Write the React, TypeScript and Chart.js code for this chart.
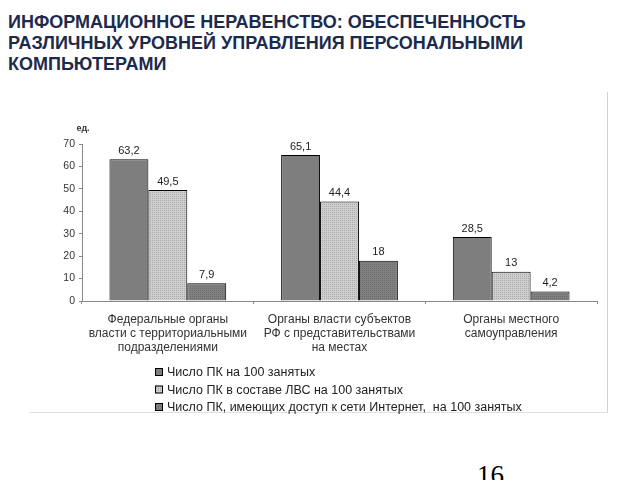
import React, { useEffect, useRef } from "react";
import { Chart, registerables } from "chart.js";

Chart.register(...registerables);

const titleLines = [
  "ИНФОРМАЦИОННОЕ НЕРАВЕНСТВО: ОБЕСПЕЧЕННОСТЬ",
  "РАЗЛИЧНЫХ УРОВНЕЙ УПРАВЛЕНИЯ ПЕРСОНАЛЬНЫМИ",
  "КОМПЬЮТЕРАМИ",
];
const categories = [
  ["Федеральные органы", "власти с территориальными", "подразделениями"],
  ["Органы власти субъектов", "РФ с представительствами", "на местах"],
  ["Органы местного", "самоуправления"],
];
const seriesNames = [
  "Число ПК на 100 занятых",
  "Число ПК в составе ЛВС на 100 занятых",
  "Число ПК, имеющих доступ к сети Интернет,  на 100 занятых",
];
const pcPer100 = [63.2, 65.1, 28.5];
const lanPer100 = [49.5, 44.4, 13];
const internetPer100 = [7.9, 18, 4.2];
const unitLabel = "ед.";

const FONT = "Arial, 'Liberation Sans', sans-serif";

function makePattern(bg: string, dot: string): CanvasPattern | string {
  const c = document.createElement("canvas");
  c.width = 2;
  c.height = 2;
  const ctx = c.getContext("2d");
  if (!ctx) return bg;
  ctx.fillStyle = bg;
  ctx.fillRect(0, 0, 2, 2);
  ctx.fillStyle = dot;
  ctx.fillRect(0, 0, 1, 1);
  const p = ctx.createPattern(c, "repeat");
  return p || bg;
}

export default function App() {
  const ref = useRef<HTMLCanvasElement>(null);
  useEffect(() => {
    if (!ref.current) return;
    const lightFill = makePattern("#cfcfcf", "#a8a8a8");
    const darkFill = "#7e7e7e";
    const thirdFill = makePattern("#808080", "#6e6e6e");
    const fills = [darkFill, lightFill, thirdFill];

    const labelsPlugin = {
      id: "extras",
      afterDatasetsDraw(chart: any) {
        const ctx = chart.ctx;
        ctx.save();
        ctx.font = "11px " + FONT;
        ctx.fillStyle = "#222";
        ctx.textAlign = "center";
        ctx.textBaseline = "bottom";
        chart.data.datasets.forEach((ds: any, i: number) => {
          const meta = chart.getDatasetMeta(i);
          meta.data.forEach((bar: any, j: number) => {
            const v = ds.data[j];
            ctx.fillText(String(v).replace(".", ","), bar.x, bar.y - 3);
          });
        });
        // unit label
        ctx.font = "bold 9px " + FONT;
        ctx.textAlign = "center";
        ctx.textBaseline = "middle";
        ctx.fillStyle = "#333";
        ctx.fillText(unitLabel, chart.chartArea.left + 1, chart.chartArea.top - 15);
        // legend
        const lx = 125;
        const ly = 280;
        ctx.font = "12.5px " + FONT;
        ctx.textAlign = "left";
        chart.data.datasets.forEach((ds: any, i: number) => {
          const y = ly + i * 17.5;
          ctx.fillStyle = fills[i];
          ctx.fillRect(lx, y - 4, 8, 8);
          ctx.strokeStyle = "#000";
          ctx.lineWidth = 1;
          ctx.strokeRect(lx + 0.5, y - 3.5, 7, 7);
          ctx.fillStyle = "#222";
          ctx.fillText(ds.label, lx + 12, y + 1);
        });
        ctx.restore();
      },
    };

    const chart = new Chart(ref.current, {
      type: "bar",
      data: {
        labels: categories as any,
        datasets: [
          { label: seriesNames[0], data: pcPer100, backgroundColor: fills[0] as any },
          { label: seriesNames[1], data: lanPer100, backgroundColor: fills[1] as any },
          { label: seriesNames[2], data: internetPer100, backgroundColor: fills[2] as any },
        ].map((d) => ({ ...d, borderColor: "#000", borderWidth: 1, categoryPercentage: 0.68, barPercentage: 1 })),
      },
      options: {
        animation: false,
        responsive: false,
        layout: { padding: { left: 0, top: 52, right: 11, bottom: 0 } },
        plugins: { legend: { display: false }, tooltip: { enabled: false } },
        scales: {
          y: {
            min: 0,
            max: 70,
            ticks: { stepSize: 10, color: "#333", font: { size: 10.5, family: FONT }, padding: 4 },
            grid: { drawOnChartArea: false, drawTicks: true, tickLength: 3, color: "#888" },
            border: { display: true, color: "#888" },
            afterFit: (s: any) => { s.width = 52; },
          },
          x: {
            ticks: { color: "#333", font: { size: 12, family: FONT, lineHeight: 1.17 }, padding: 9, maxRotation: 0, autoSkip: false },
            grid: { drawOnChartArea: false, drawTicks: true, tickLength: 3, color: "#888", offset: true },
            border: { display: true, color: "#888" },
            afterFit: (s: any) => { s.height = 113; },
          },
        },
      },
      plugins: [labelsPlugin],
    });
    return () => chart.destroy();
  }, []);

  return (
    <div style={{ position: "absolute", left: 0, top: 0, width: 640, height: 480, overflow: "hidden", background: "#fff" }}>
      <div
        style={{
          position: "absolute",
          left: 8,
          top: 12,
          fontFamily: FONT,
          fontWeight: "bold",
          fontSize: 18,
          lineHeight: "21px",
          color: "#1c2a4c",
          whiteSpace: "nowrap",
        }}
      >
        {titleLines.map((t, i) => (
          <div key={i}>{t}</div>
        ))}
      </div>
      <div
        style={{
          position: "absolute",
          left: 30,
          top: 92,
          width: 577,
          height: 320,
          borderRight: "1px solid #d0d0d0",
          borderBottom: "1px solid #e0e0e0",
        }}
      >
        <canvas ref={ref} width={578} height={322} style={{ display: "block", width: 578, height: 322 }} />
      </div>
      <div
        style={{
          position: "absolute",
          left: 477,
          top: 460,
          fontFamily: "'Liberation Serif', 'DejaVu Serif', serif",
          fontSize: 27,
          lineHeight: "30px",
          color: "#000",
        }}
      >
        16
      </div>
    </div>
  );
}
